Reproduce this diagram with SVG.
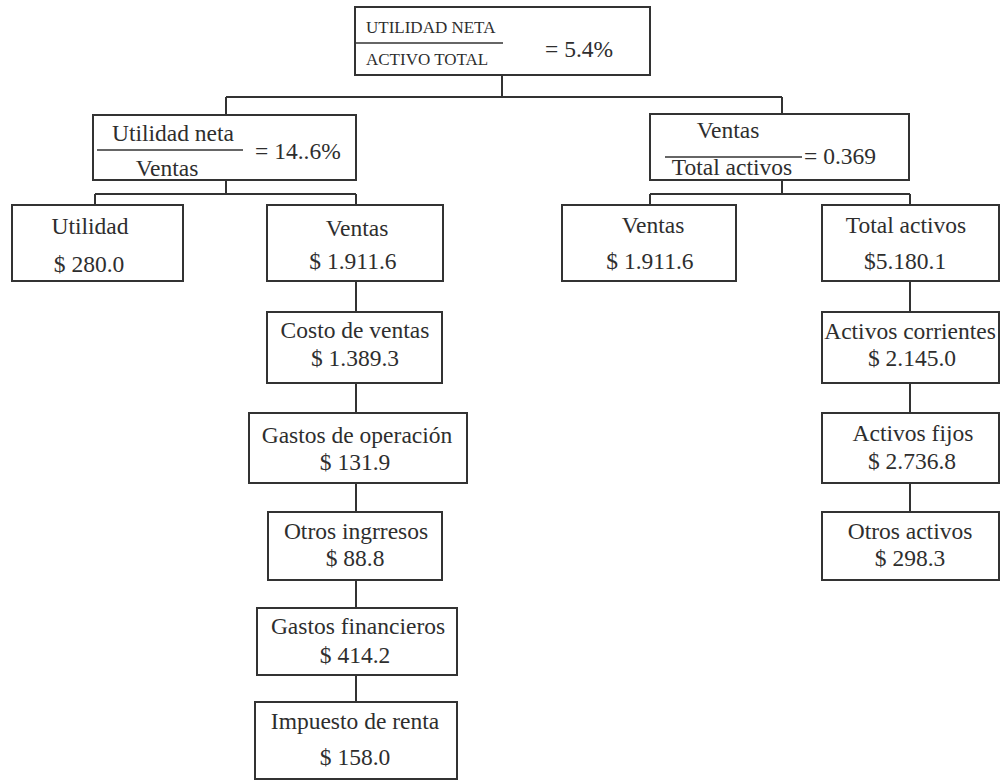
<svg xmlns="http://www.w3.org/2000/svg" width="1000" height="782" viewBox="0 0 1000 782">
  <style>
    .box { fill: #ffffff; stroke: #333333; stroke-width: 2; }
    .wire { fill: none; stroke: #333333; stroke-width: 2; }
    .rule { stroke: #333333; stroke-width: 1.6; }
    text { font-family: "Liberation Serif", "Times New Roman", serif; fill: #2e2e2e; font-size: 23.5px; text-anchor: middle; }
    .caps { font-size: 17px; text-anchor: start; }
    .eq { text-anchor: start; }
  </style>
  <rect width="1000" height="782" fill="#ffffff"/>

  <!-- connectors -->
  <g id="connectors">
    <path class="wire" d="M502 75 V97 M226 97 H782 M226 97 V115 M782 97 V114"/>
    <path class="wire" d="M226 180 V194 M95 194 H356 M95 194 V205 M356 194 V205"/>
    <path class="wire" d="M782 180 V194 M650 194 H910 M650 194 V205 M910 194 V205"/>
    <path class="wire" d="M356 281 V312 M356 383 V413 M356 483 V512 M356 580 V608 M356 675 V702"/>
    <path class="wire" d="M910 281 V312 M910 383 V413 M910 483 V512"/>
  </g>

  <!-- return on assets -->
  <g id="roa">
    <rect class="box" x="355" y="7" width="295" height="68"/>
    <text class="caps" x="366" y="33">UTILIDAD NETA</text>
    <line class="rule" x1="356" y1="43" x2="503" y2="43"/>
    <text class="caps" x="366" y="65">ACTIVO TOTAL</text>
    <text class="eq" x="545" y="57">= 5.4%</text>
  </g>

  <!-- net margin -->
  <g id="margin">
    <rect class="box" x="93" y="115" width="263" height="65"/>
    <text x="173" y="141">Utilidad neta</text>
    <line class="rule" x1="97" y1="150" x2="243" y2="150"/>
    <text x="167" y="176">Ventas</text>
    <text class="eq" x="255" y="159">= 14..6%</text>
  </g>

  <!-- asset turnover -->
  <g id="turnover">
    <rect class="box" x="650" y="114" width="259" height="66"/>
    <text x="728" y="138">Ventas</text>
    <line class="rule" x1="665" y1="157" x2="802" y2="157"/>
    <text x="732" y="175">Total activos</text>
    <text class="eq" x="804" y="164">= 0.369</text>
  </g>

  <g id="utilidad">
    <rect class="box" x="12" y="205" width="171" height="76"/>
    <text x="90" y="234">Utilidad</text>
    <text x="89" y="272">$ 280.0</text>
  </g>

  <g id="ventas-left">
    <rect class="box" x="267" y="205" width="176" height="76"/>
    <text x="357" y="236">Ventas</text>
    <text x="353" y="269">$ 1.911.6</text>
  </g>

  <g id="ventas-right">
    <rect class="box" x="562" y="205" width="174" height="76"/>
    <text x="653" y="233">Ventas</text>
    <text x="650" y="269">$ 1.911.6</text>
  </g>

  <g id="total-activos">
    <rect class="box" x="822" y="205" width="177" height="76"/>
    <text x="906" y="233">Total activos</text>
    <text x="905" y="269">$5.180.1</text>
  </g>

  <g id="costo-ventas">
    <rect class="box" x="267" y="312" width="175" height="71"/>
    <text x="355" y="338">Costo de ventas</text>
    <text x="355" y="366">$ 1.389.3</text>
  </g>

  <g id="gastos-operacion">
    <rect class="box" x="249" y="413" width="218" height="70"/>
    <text x="357" y="443">Gastos de operación</text>
    <text x="355" y="470">$ 131.9</text>
  </g>

  <g id="otros-ingresos">
    <rect class="box" x="268" y="512" width="174" height="68"/>
    <text x="356" y="539">Otros ingrresos</text>
    <text x="355" y="566">$ 88.8</text>
  </g>

  <g id="gastos-financieros">
    <rect class="box" x="257" y="608" width="200" height="67"/>
    <text x="358" y="634">Gastos financieros</text>
    <text x="355" y="663">$ 414.2</text>
  </g>

  <g id="impuesto-renta">
    <rect class="box" x="255" y="702" width="202" height="77"/>
    <text x="355" y="729">Impuesto de renta</text>
    <text x="355" y="765">$ 158.0</text>
  </g>

  <g id="activos-corrientes">
    <rect class="box" x="822" y="312" width="177" height="71"/>
    <text x="910" y="339">Activos corrientes</text>
    <text x="912" y="366">$ 2.145.0</text>
  </g>

  <g id="activos-fijos">
    <rect class="box" x="822" y="413" width="177" height="70"/>
    <text x="913" y="441">Activos fijos</text>
    <text x="912" y="469">$ 2.736.8</text>
  </g>

  <g id="otros-activos">
    <rect class="box" x="822" y="512" width="177" height="68"/>
    <text x="910" y="539">Otros activos</text>
    <text x="910" y="566">$ 298.3</text>
  </g>
</svg>
